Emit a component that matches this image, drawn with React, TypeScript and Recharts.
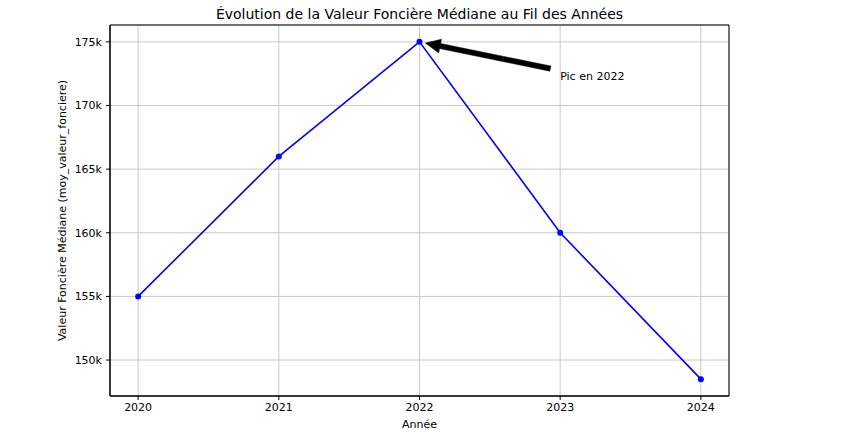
import React from 'react'
import {
  LineChart,
  Line,
  XAxis,
  YAxis,
  CartesianGrid,
  ReferenceArea,
  ReferenceLine,
  ReferenceDot,
} from 'recharts'

const ANNEES = [2020, 2021, 2022, 2023, 2024]
const VALEURS = [155000, 166000, 175000, 160000, 148500]
const Y_TICKS = [150000, 155000, 160000, 165000, 170000, 175000]
const X_DOMAIN = [2019.8, 2024.2]
const Y_DOMAIN = [147175, 176325]

const PIC = { x: 2022, y: 175000 }
const PIC_TEXTE = { x: 2023, y: 172000, label: 'Pic en 2022' }
const FLECHE_DEPART = { x: 2022.93, y: 172900 }

const FONT = '"DejaVu Sans", sans-serif'

const data = ANNEES.map((annee, i) => ({ annee, valeur: VALEURS[i] }))

function formatK(v: number) {
  return `${Math.round(v / 1000)}k`
}

// grosse flèche noire façon matplotlib (width 4, headwidth 12)
function Fleche(props: any) {
  const { x1, y1, x2, y2 } = props
  const dx = x2 - x1
  const dy = y2 - y1
  const len = Math.sqrt(dx * dx + dy * dy)
  const ux = dx / len
  const uy = dy / len
  const px = -uy
  const py = ux
  const tipX = x2 - ux * 6
  const tipY = y2 - uy * 6
  const headLen = 15
  const w = 2.6
  const hw = 7
  const bx = tipX - ux * headLen
  const by = tipY - uy * headLen
  const pts = [
    [x1 + px * w, y1 + py * w],
    [bx + px * w, by + py * w],
    [bx + px * hw, by + py * hw],
    [tipX, tipY],
    [bx - px * hw, by - py * hw],
    [bx - px * w, by - py * w],
    [x1 - px * w, y1 - py * w],
  ]
  return <polygon points={pts.map((p) => p.join(',')).join(' ')} fill="#000" stroke="#000" strokeWidth={0.5} />
}

function TexteAnnotation(props: any) {
  const { cx, cy } = props
  return (
    <text x={cx} y={cy} fontFamily={FONT} fontSize={11} fill="#000">
      {PIC_TEXTE.label}
    </text>
  )
}

function YLabel({ viewBox }: any) {
  const x = viewBox.x + 62
  const y = viewBox.y + viewBox.height / 2
  return (
    <text
      x={x}
      y={y}
      transform={`rotate(-90, ${x}, ${y})`}
      textAnchor="middle"
      dominantBaseline="central"
      fontFamily={FONT}
      fontSize={11}
      fill="#000"
    >
      Valeur Foncière Médiane (moy_valeur_fonciere)
    </text>
  )
}

function XLabel({ viewBox }: any) {
  const x = viewBox.x + viewBox.width / 2
  return (
    <text x={x} y={viewBox.y + 32} textAnchor="middle" fontFamily={FONT} fontSize={11} fill="#000">
      Année
    </text>
  )
}

export default function App() {
  return (
    <div style={{ position: 'absolute', left: 0, top: 0, width: 845, height: 439, background: '#fff' }}>
      <div
        style={{
          position: 'absolute',
          left: 110,
          width: 619,
          top: 5,
          textAlign: 'center',
          fontFamily: FONT,
          fontSize: 14,
          color: '#000',
          lineHeight: '18px',
        }}
      >
        Évolution de la Valeur Foncière Médiane au Fil des Années
      </div>
      <LineChart width={845} height={439} data={data} margin={{ top: 25, right: 116, bottom: 0, left: 0 }}>
        <CartesianGrid stroke="#c8c8c8" strokeWidth={1} />
        <XAxis
          dataKey="annee"
          type="number"
          domain={X_DOMAIN}
          ticks={ANNEES}
          allowDataOverflow
          height={43}
          tickSize={4}
          tickMargin={3}
          axisLine={{ stroke: '#000' }}
          tickLine={{ stroke: '#000' }}
          tick={{ fill: '#000', fontSize: 11, fontFamily: FONT }}
          label={<XLabel />}
        />
        <YAxis
          type="number"
          domain={Y_DOMAIN}
          ticks={Y_TICKS}
          allowDataOverflow
          width={110}
          tickSize={4}
          tickMargin={4}
          tickFormatter={formatK}
          axisLine={{ stroke: '#000' }}
          tickLine={{ stroke: '#000' }}
          tick={{ fill: '#000', fontSize: 11, fontFamily: FONT }}
          label={<YLabel />}
        />
        <ReferenceArea
          x1={X_DOMAIN[0]}
          x2={X_DOMAIN[1]}
          y1={Y_DOMAIN[0]}
          y2={Y_DOMAIN[1]}
          fill="none"
          fillOpacity={0}
          stroke="#000"
          strokeWidth={1}
          strokeOpacity={1}
        />
        <Line
          dataKey="valeur"
          type="linear"
          stroke="#0000ff"
          strokeWidth={1.6}
          dot={{ r: 3, fill: '#0000ff', stroke: 'none' }}
          activeDot={false}
          isAnimationActive={false}
        />
        <ReferenceLine
          segment={[
            { x: FLECHE_DEPART.x, y: FLECHE_DEPART.y },
            { x: PIC.x, y: PIC.y },
          ]}
          shape={<Fleche />}
        />
        <ReferenceDot x={PIC_TEXTE.x} y={PIC_TEXTE.y} r={0} shape={<TexteAnnotation />} />
      </LineChart>
    </div>
  )
}
